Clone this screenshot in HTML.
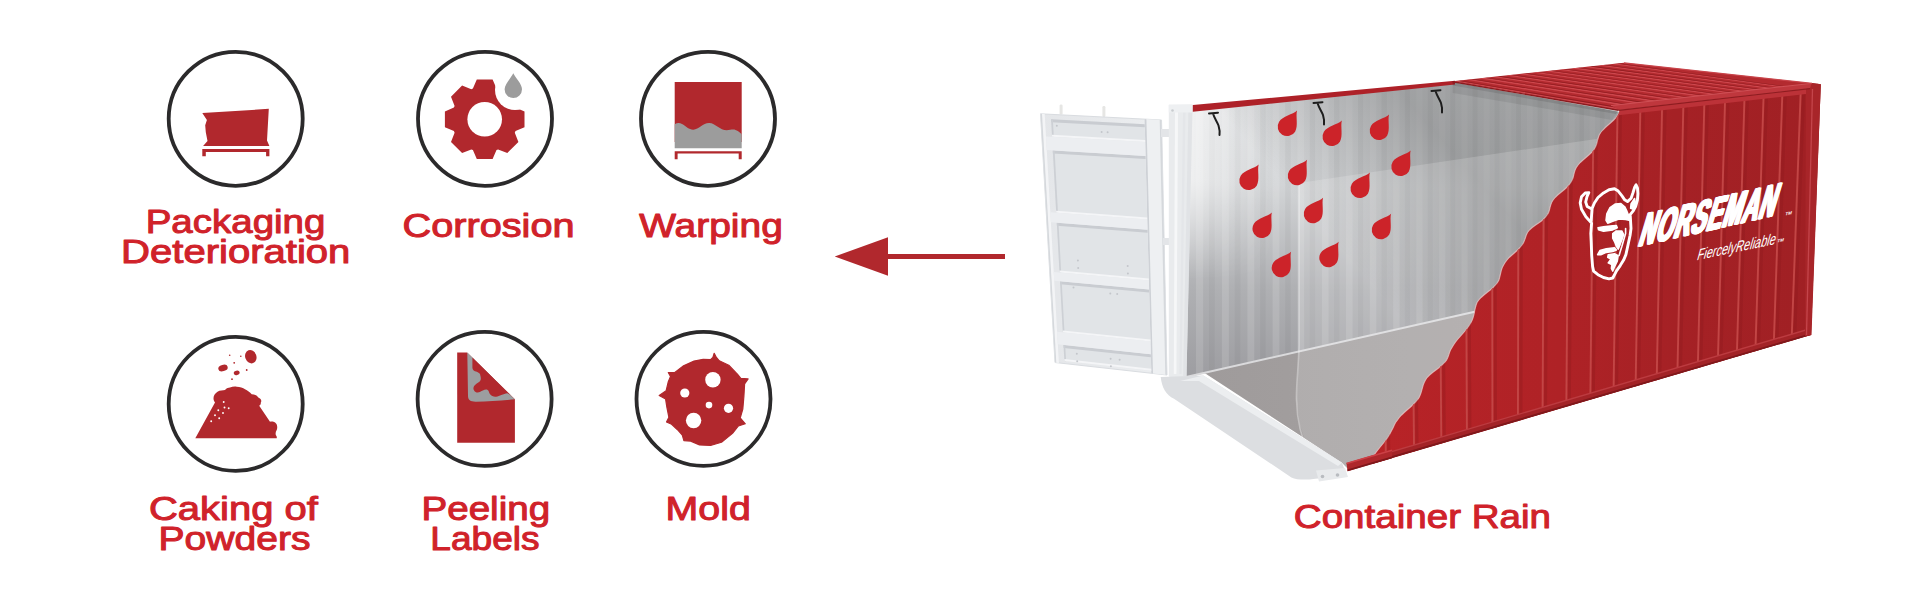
<!DOCTYPE html>
<html><head><meta charset="utf-8"><title>Container Rain</title>
<style>
html,body{margin:0;padding:0;background:#fff;}
body{width:1920px;height:600px;overflow:hidden;}
svg{display:block;font-family:"Liberation Sans",sans-serif;}
</style></head><body>
<svg width="1920" height="600" viewBox="0 0 1920 600">
<rect width="1920" height="600" fill="#fff"/>
<circle cx="235.7" cy="118.8" r="67.0" fill="#fff" stroke="#2B2A2B" stroke-width="3.8"/>
<circle cx="485" cy="118.8" r="67.0" fill="#fff" stroke="#2B2A2B" stroke-width="3.8"/>
<circle cx="708" cy="118.8" r="67.0" fill="#fff" stroke="#2B2A2B" stroke-width="3.8"/>
<circle cx="235.7" cy="403.9" r="67.0" fill="#fff" stroke="#2B2A2B" stroke-width="3.8"/>
<circle cx="484.6" cy="398.9" r="67.0" fill="#fff" stroke="#2B2A2B" stroke-width="3.8"/>
<circle cx="703.5" cy="398.9" r="67.0" fill="#fff" stroke="#2B2A2B" stroke-width="3.8"/>
<path fill="#B1282D" d="M202.3,113.1 L268.8,108.8 L267,140.5 L269.4,146.1 L203.1,146.1 L207.5,141.1 L205.8,132.3 L205.2,125.3 L206.9,120.1 L204.6,116.6 Z"/>
<path fill="#B1282D" d="M202.3,148.9 H269.4 V156.3 H266.1 V152 H205.8 V156.3 H202.3 Z"/>
<defs><mask id="gm"><rect x="400" y="40" width="180" height="160" fill="#fff"/><circle cx="484.7" cy="119.3" r="17.3" fill="#000"/><circle cx="515" cy="90" r="20" fill="#000"/></mask></defs>
<path fill="#B1282D" d="M472.9,88.5 L476.8,79.5 L492.6,79.5 L496.5,88.5 L498.1,89.2 L507.3,85.6 L518.4,96.7 L514.8,105.9 L515.5,107.5 L524.5,111.4 L524.5,127.2 L515.5,131.1 L514.8,132.7 L518.4,141.9 L507.3,153.0 L498.1,149.4 L496.5,150.1 L492.6,159.1 L476.8,159.1 L472.9,150.1 L471.3,149.4 L462.1,153.0 L451.0,141.9 L454.6,132.7 L453.9,131.1 L444.9,127.2 L444.9,111.4 L453.9,107.5 L454.6,105.9 L451.0,96.7 L462.1,85.6 L471.3,89.2 Z" mask="url(#gm)"/>
<path fill="#9C9C9C" d="M513.3,73.3 C515.5,78 522,84 522,89.3 A8.7,8.7 0 0 1 504.6,89.3 C504.6,84 511.2,78 513.3,73.3 Z"/>
<rect x="674.7" y="82" width="67" height="60" fill="#B1282D"/>
<path fill="#9C9C9C" d="M674.7,124.2 C677,123 679.5,122.6 682,124 C686,126.2 689,129.8 693.3,129.7 C699,129.5 703,122.8 709.2,123 C715.5,123.2 720,130.3 726.7,130.3 C730,130.3 733,129 735.5,130 C738,131 740,132.5 741.7,134.2 V148.3 H674.7 Z"/>
<path fill="#B1282D" d="M674.7,151.2 H741.7 V159.2 H738.7 V153.4 H677.6 V159.2 H674.7 Z"/>
<path fill="#B1282D" d="M195.3,438.3 L215,402.5 C212.5,399.5 213,394.5 217.5,391.7 C220,390 223,390.6 225,390 C226.5,388.2 228.5,387.6 230,387.5 C232,386.6 234.5,386.5 236.7,386.7 C240,386.8 243,387.8 245,389.2 C247.5,390.5 250,392 251.7,394.2 C254,394.2 257,395.3 258.3,397.5 C261,398.5 262,401 260.8,402.5 C261,404 260.2,405.2 259.2,405.8 L270,421.7 C272,421.2 275,421.8 275.8,423.3 C277.6,425 277.5,428.5 276.7,430 C275.6,431.5 275.4,433.5 275.8,435 C276.8,436 277,437.5 276.7,438.3 Z"/>
<ellipse cx="250.8" cy="356.7" rx="5.6" ry="6.8" transform="rotate(-20 250.8 356.7)" fill="#B1282D"/>
<ellipse cx="223" cy="368" rx="4.8" ry="3.2" transform="rotate(-15 223 368)" fill="#B1282D"/>
<ellipse cx="236.7" cy="372.8" rx="3" ry="2.2" transform="rotate(-15 236.7 372.8)" fill="#B1282D"/>
<circle cx="229.7" cy="355.3" r="0.8" fill="#B1282D"/>
<circle cx="240.8" cy="356.3" r="0.8" fill="#B1282D"/>
<circle cx="234.2" cy="362.8" r="0.9" fill="#B1282D"/>
<circle cx="246.7" cy="370" r="0.9" fill="#B1282D"/>
<circle cx="232" cy="379.2" r="0.9" fill="#B1282D"/>
<circle cx="223.7" cy="402" r="0.95" fill="#fff"/>
<circle cx="224.5" cy="407.5" r="0.95" fill="#fff"/>
<circle cx="228.7" cy="408.3" r="0.95" fill="#fff"/>
<circle cx="218.3" cy="410.3" r="0.95" fill="#fff"/>
<circle cx="223" cy="413" r="0.95" fill="#fff"/>
<circle cx="215" cy="415.3" r="0.95" fill="#fff"/>
<circle cx="219.2" cy="418.3" r="0.95" fill="#fff"/>
<circle cx="211.2" cy="421.2" r="0.95" fill="#fff"/>
<path fill="#B1282D" d="M457.2,352.4 H467.1 L514.9,399.3 V442.7 H457.2 Z"/>
<path fill="#9C9EA0" d="M467.3,352.6 L514.7,399.3 C502,400.6 488,401.4 476,401.7 C470.5,401.8 468,400 468,396 Z"/>
<path fill="#B1282D" d="M472.4,357.6 L472.4,367.8 C472.6,369.6 473.6,370.6 475,371.3 C477.5,372 480.5,373 480.3,375.6 C481.2,378.5 481,380.5 479.4,381.8 C477.6,383.4 475,384.4 474.1,386.1 C473.2,387.6 473.2,389.4 474.1,390.5 C475,392 476.2,392.6 477.6,392.6 C479.6,392.6 481,391 482.9,390.5 C484.4,389.6 486,389.2 487.3,389.7 C489,390.4 489,392.6 489.9,394 C491.4,396 493.6,396.9 496,396.7 C498,396.6 499.6,395.4 501.3,394.9 C503.4,394.2 505.4,393.4 507.4,393.2 L510.5,394.9 Z"/>
<path fill="#B1282D" stroke="#B1282D" stroke-width="1.2" stroke-linejoin="round" d="M710.5,359.7 L712.9,357.5 L714.2,353.3 L716.4,357.5 L719.3,360.8 L728.8,365.2 L737.6,374.3 L740.8,378.4 L748.1,378.9 L744.6,383.9 L743.9,396.3 L742.8,409.2 L740.2,418.0 L745.3,423.8 L738.4,426.0 L732.5,433.4 L721.5,442.2 L710.5,445.5 L699.5,444.9 L690.7,441.1 L683.9,440.7 L682.3,435.2 L677.5,429.7 L671.6,424.2 L666.5,422.0 L668.9,417.4 L666.9,407.3 L665.6,399.1 L659.2,395.4 L666.1,390.8 L668.3,381.7 L670.5,376.5 L668.3,372.5 L674.8,372.5 L683.0,366.1 L694.0,361.1 L703.2,359.3 Z"/>
<circle cx="712.9" cy="379.8" r="7.7" fill="#fff"/>
<circle cx="684.8" cy="393" r="4.6" fill="#fff"/>
<circle cx="709" cy="405.1" r="3.3" fill="#fff"/>
<circle cx="728.5" cy="408.3" r="4.6" fill="#fff"/>
<circle cx="693.6" cy="420.5" r="7.7" fill="#fff"/>
<path fill="#B1282D" d="M834.7,256.5 L888,237.3 V254.1 H1005 V259.1 H888 V275.7 Z"/>
<defs>
<linearGradient id="wallg" x1="0" y1="0" x2="0" y2="1">
 <stop offset="0" stop-color="#DCDEE0"/><stop offset="0.35" stop-color="#D2D4D6"/><stop offset="0.7" stop-color="#AFB0B3"/><stop offset="1" stop-color="#9D9DA1"/>
</linearGradient>
<linearGradient id="floorg" x1="0" y1="0" x2="1" y2="0">
 <stop offset="0" stop-color="#9F9B9B"/><stop offset="1" stop-color="#A6A2A2"/>
</linearGradient>
<linearGradient id="doorg" x1="0" y1="0" x2="1" y2="0">
 <stop offset="0" stop-color="#E4E6E9"/><stop offset="1" stop-color="#ECEEF0"/>
</linearGradient>
<linearGradient id="redg" gradientUnits="userSpaceOnUse" x1="1350" y1="0" x2="1815" y2="0">
 <stop offset="0" stop-color="#B92327"/><stop offset="0.45" stop-color="#AF2226"/><stop offset="0.7" stop-color="#A52125"/><stop offset="1" stop-color="#A02024"/>
</linearGradient>
</defs>
<rect x="1059.6" y="104.5" width="3" height="10" rx="1.3" fill="#E6E6E4"/>
<rect x="1102.4" y="106" width="3" height="11" rx="1.3" fill="#E6E6E4"/>
<polygon points="1040.5,113.8 1161.5,120.0 1167.0,375.0 1055.0,362.5" fill="url(#doorg)" stroke="#D9DCE0" stroke-width="1"/>
<polygon points="1040.5,113.8 1044.7,114.0 1058.9,362.9 1055.0,362.5" fill="#F3F4F6" />
<polygon points="1144.6,119.1 1161.5,120.0 1167.0,375.0 1151.3,373.2" fill="#EEF0F2" />
<polygon points="1144.6,119.1 1146.4,119.2 1153.0,373.4 1151.3,373.2" fill="#CED1D6" />
<polygon points="1159.7,119.9 1161.5,120.0 1167.0,375.0 1165.3,374.8" fill="#D5D8DC" />
<polygon points="1040.5,113.8 1042.0,113.9 1056.3,362.6 1055.0,362.5" fill="#D5D8DC" />
<polygon points="1051.1,119.3 1144.7,124.2 1145.2,142.0 1052.0,136.8" fill="#E1E4E7" />
<polygon points="1051.1,119.3 1144.7,124.2 1144.8,127.3 1051.2,122.3" fill="#C9CCD1" />
<polygon points="1051.1,119.3 1052.9,119.4 1053.8,136.9 1052.0,136.8" fill="#CDD0D5" />
<polygon points="1051.9,134.8 1145.1,140.0 1145.2,142.0 1052.0,136.8" fill="#F4F5F7" />
<polygon points="1052.8,150.5 1145.5,156.0 1147.2,219.5 1056.2,212.8" fill="#E1E4E7" />
<polygon points="1052.8,150.5 1145.5,156.0 1145.6,159.0 1052.9,153.5" fill="#C9CCD1" />
<polygon points="1052.8,150.5 1054.6,150.6 1058.0,212.9 1056.2,212.8" fill="#CDD0D5" />
<polygon points="1056.1,210.8 1147.2,217.5 1147.2,219.5 1056.2,212.8" fill="#F4F5F7" />
<polygon points="1056.8,222.7 1147.5,229.7 1148.9,280.5 1059.5,272.6" fill="#E1E4E7" />
<polygon points="1056.8,222.7 1147.5,229.7 1147.6,232.7 1056.9,225.7" fill="#C9CCD1" />
<polygon points="1056.8,222.7 1058.5,222.9 1061.2,272.7 1059.5,272.6" fill="#CDD0D5" />
<polygon points="1059.4,270.6 1148.8,278.5 1148.9,280.5 1059.5,272.6" fill="#F4F5F7" />
<polygon points="1060.0,281.3 1149.1,289.4 1150.5,341.5 1062.8,332.4" fill="#E1E4E7" />
<polygon points="1060.0,281.3 1149.1,289.4 1149.2,292.4 1060.2,284.3" fill="#C9CCD1" />
<polygon points="1060.0,281.3 1061.7,281.5 1064.5,332.6 1062.8,332.4" fill="#CDD0D5" />
<polygon points="1062.7,330.4 1150.4,339.5 1150.5,341.5 1062.8,332.4" fill="#F4F5F7" />
<polygon points="1063.5,344.9 1150.8,354.2 1151.3,370.7 1064.4,361.1" fill="#E1E4E7" />
<polygon points="1063.5,344.9 1150.8,354.2 1150.9,357.2 1063.7,347.9" fill="#C9CCD1" />
<polygon points="1063.5,344.9 1065.2,345.1 1066.1,361.3 1064.4,361.1" fill="#CDD0D5" />
<polygon points="1064.3,359.1 1151.2,368.7 1151.3,370.7 1064.4,361.1" fill="#F4F5F7" />
<polygon points="1046.0,136.4 1145.2,142.0 1145.5,156.0 1046.8,150.1" fill="#ECEEF1" />
<polygon points="1050.3,212.3 1147.2,219.5 1147.5,229.7 1050.9,222.3" fill="#ECEEF1" />
<polygon points="1053.7,272.1 1148.9,280.5 1149.1,289.4 1054.2,280.8" fill="#ECEEF1" />
<polygon points="1057.1,331.8 1150.5,341.5 1150.8,354.2 1057.9,344.3" fill="#ECEEF1" />
<circle cx="1056.8" cy="125.8" r="1" fill="#C3C6CB"/>
<circle cx="1101.6" cy="132.0" r="1" fill="#C3C6CB"/>
<circle cx="1107.6" cy="132.3" r="1" fill="#C3C6CB"/>
<circle cx="1077.9" cy="260.5" r="1" fill="#C3C6CB"/>
<circle cx="1078.2" cy="268.0" r="1" fill="#C3C6CB"/>
<circle cx="1127.7" cy="266.0" r="1" fill="#C3C6CB"/>
<circle cx="1127.9" cy="273.6" r="1" fill="#C3C6CB"/>
<circle cx="1110.3" cy="293.4" r="1" fill="#C3C6CB"/>
<circle cx="1117.2" cy="294.0" r="1" fill="#C3C6CB"/>
<circle cx="1073.5" cy="287.5" r="1" fill="#C3C6CB"/>
<circle cx="1076.8" cy="353.8" r="1" fill="#C3C6CB"/>
<circle cx="1110.6" cy="358.7" r="1" fill="#C3C6CB"/>
<circle cx="1119.6" cy="359.7" r="1" fill="#C3C6CB"/>
<circle cx="1077.2" cy="361.3" r="1" fill="#C3C6CB"/>
<circle cx="1110.9" cy="366.2" r="1" fill="#C3C6CB"/>
<rect x="1161" y="129" width="9" height="8" fill="#E3E5E8"/>
<rect x="1163" y="238" width="8" height="7" fill="#E3E5E8"/>
<clipPath id="bwc"><polygon points="1184.0,109.2 1453.0,82.2 1600.0,108.2 1620.0,112.0 1620.0,278.4 1184.0,378.0"/></clipPath>
<polygon points="1184.0,109.2 1453.0,82.2 1600.0,108.2 1620.0,112.0 1620.0,278.4 1184.0,378.0" fill="url(#wallg)"/>
<g clip-path="url(#bwc)"><rect x="1196.0" y="50" width="7.2" height="340" fill="#fff" opacity="0.13"/><rect x="1209.0" y="50" width="5.8" height="340" fill="#000" opacity="0.03"/><rect x="1221.9" y="50" width="7.0" height="340" fill="#fff" opacity="0.13"/><rect x="1234.7" y="50" width="5.7" height="340" fill="#000" opacity="0.03"/><rect x="1247.4" y="50" width="6.9" height="340" fill="#fff" opacity="0.13"/><rect x="1260.1" y="50" width="5.6" height="340" fill="#000" opacity="0.03"/><rect x="1272.6" y="50" width="6.8" height="340" fill="#fff" opacity="0.13"/><rect x="1285.1" y="50" width="5.6" height="340" fill="#000" opacity="0.03"/><rect x="1297.4" y="50" width="6.8" height="340" fill="#fff" opacity="0.13"/><rect x="1309.7" y="50" width="5.5" height="340" fill="#000" opacity="0.03"/><rect x="1321.9" y="50" width="6.7" height="340" fill="#fff" opacity="0.13"/><rect x="1334.0" y="50" width="5.4" height="340" fill="#000" opacity="0.03"/><rect x="1346.0" y="50" width="6.6" height="340" fill="#fff" opacity="0.13"/><rect x="1357.9" y="50" width="5.3" height="340" fill="#000" opacity="0.03"/><rect x="1369.8" y="50" width="6.5" height="340" fill="#fff" opacity="0.13"/><rect x="1381.5" y="50" width="5.3" height="340" fill="#000" opacity="0.03"/><rect x="1393.2" y="50" width="6.4" height="340" fill="#fff" opacity="0.13"/><rect x="1404.8" y="50" width="5.2" height="340" fill="#000" opacity="0.03"/><rect x="1416.3" y="50" width="6.3" height="340" fill="#fff" opacity="0.13"/><rect x="1427.7" y="50" width="5.1" height="340" fill="#000" opacity="0.03"/><rect x="1439.1" y="50" width="6.2" height="340" fill="#fff" opacity="0.13"/><rect x="1450.3" y="50" width="5.0" height="340" fill="#000" opacity="0.03"/><rect x="1461.5" y="50" width="6.1" height="340" fill="#fff" opacity="0.13"/><rect x="1472.6" y="50" width="5.0" height="340" fill="#000" opacity="0.03"/><rect x="1483.6" y="50" width="6.0" height="340" fill="#fff" opacity="0.13"/><rect x="1494.6" y="50" width="4.9" height="340" fill="#000" opacity="0.03"/><rect x="1505.5" y="50" width="5.9" height="340" fill="#fff" opacity="0.13"/><rect x="1516.2" y="50" width="4.8" height="340" fill="#000" opacity="0.03"/><rect x="1526.9" y="50" width="5.8" height="340" fill="#fff" opacity="0.13"/><rect x="1537.6" y="50" width="4.8" height="340" fill="#000" opacity="0.03"/><rect x="1548.1" y="50" width="5.8" height="340" fill="#fff" opacity="0.13"/><rect x="1558.6" y="50" width="4.7" height="340" fill="#000" opacity="0.03"/><rect x="1569.0" y="50" width="5.7" height="340" fill="#fff" opacity="0.13"/><rect x="1579.4" y="50" width="4.6" height="340" fill="#000" opacity="0.03"/><rect x="1589.6" y="50" width="5.6" height="340" fill="#fff" opacity="0.13"/><rect x="1599.8" y="50" width="4.6" height="340" fill="#000" opacity="0.03"/><rect x="1609.9" y="50" width="5.5" height="340" fill="#fff" opacity="0.13"/><rect x="1620.0" y="50" width="4.5" height="340" fill="#000" opacity="0.03"/><rect x="1629.9" y="50" width="5.4" height="340" fill="#fff" opacity="0.13"/><rect x="1639.8" y="50" width="4.4" height="340" fill="#000" opacity="0.03"/></g>
<defs><linearGradient id="ltg" gradientUnits="userSpaceOnUse" x1="1192" y1="0" x2="1275" y2="0"><stop offset="0" stop-color="#fff" stop-opacity="0.62"/><stop offset="0.45" stop-color="#fff" stop-opacity="0.3"/><stop offset="1" stop-color="#fff" stop-opacity="0"/></linearGradient></defs>
<defs><linearGradient id="ltm" gradientUnits="userSpaceOnUse" x1="0" y1="180" x2="0" y2="280"><stop offset="0" stop-color="#fff"/><stop offset="1" stop-color="#000"/></linearGradient><mask id="ltmask"><rect x="1150" y="50" width="200" height="400" fill="url(#ltm)"/></mask></defs>
<polygon points="1184.0,109.2 1453.0,82.2 1600.0,108.2 1620.0,112.0 1620.0,278.4 1184.0,378.0" fill="url(#ltg)" mask="url(#ltmask)"/>
<defs><linearGradient id="shg" gradientUnits="userSpaceOnUse" x1="1300" y1="300" x2="1460" y2="160"><stop offset="0" stop-color="#000" stop-opacity="0"/><stop offset="0.3" stop-color="#000" stop-opacity="0"/><stop offset="1" stop-color="#000" stop-opacity="0.27"/></linearGradient></defs>
<polygon points="1184.0,109.2 1453.0,82.2 1600.0,108.2 1620.0,112.0 1620.0,278.4 1184.0,378.0" fill="url(#shg)"/>
<polygon points="1203.8,372.5 1490.0,307.8 1490.0,424.0 1347.5,468.5 1342.0,462.7" fill="url(#floorg)"/>
<line x1="1186" y1="377.0" x2="1520" y2="301.5" stroke="#DADADC" stroke-width="2"/>
<clipPath id="intc"><polygon points="1184.0,109.2 1453.0,82.2 1600.0,108.2 1620.0,112.0 1620.0,278.4 1184.0,378.0"/><polygon points="1203.8,372.5 1490.0,307.8 1490.0,424.0 1347.5,468.5 1342.0,462.7"/></clipPath>
<g clip-path="url(#intc)"><polygon points="1299.0,183.0 1562.0,144.0 1640.0,132.5 1640.0,500.0 1320.0,500.0 1309.5,455.0 1300.0,425.0 1296.5,400.0 1298.5,365.0 1299.0,345.0" fill="#fff" opacity="0.17"/></g>
<path d="M1299,184 L1299,345 C1298.5,370 1296,385 1296.5,400 C1297,420 1302,440 1309.5,455" fill="none" stroke="#fff" stroke-width="1.6" opacity="0.35"/>
<polygon points="1168.8,105 1192.5,104.5 1186.5,377 1172,380 1168.8,376" fill="#E9EBED"/>
<polygon points="1175,112 1178,112 1176.4,374 1173.8,374" fill="#F6F7F8"/>
<polygon points="1183,112 1185.5,112 1181.6,374 1179.4,374" fill="#E4E6E9"/>
<polygon points="1188.5,106 1192.5,106 1186.5,376 1183.2,376" fill="#DFE1E4" opacity="0.8"/>
<rect x="1168.8" y="104.5" width="23.7" height="8" fill="#EEF0F2"/>
<circle cx="1172.5" cy="110.5" r="1.3" fill="#C9CCD0"/>
<path d="M1160.7,377 C1162,388 1166,395 1174,398.7 L1291.4,477.4 C1297,480 1306,480 1315.4,478.7 L1347,476 L1342,462.7 L1203.4,375.5 Z" fill="#DCDEE1"/>
<path d="M1180,381 L1203.4,375.5 L1342,462.7 L1338,466 L1199,381 Z" fill="#ECEEF0"/>
<path d="M1316,470.5 L1345,468 L1348,477 L1319,481.5 Z" fill="#E8EAEC"/>
<circle cx="1322.5" cy="476.5" r="1.8" fill="#B9BCC0"/><circle cx="1337.5" cy="475" r="1.8" fill="#B9BCC0"/>
<polygon points="1192.8,105.1 1455,80.8 1455,84.4 1192.8,111.7" fill="#AE2128"/>
<polygon points="1452.7,81.3 1618.7,110 1616,114 1452.7,85.5" fill="#000" opacity="0.10"/>
<polygon points="1452.7,81.3 1618.7,110 1612,120 1452.7,93" fill="#000" opacity="0.07"/>
<path d="M1209,113.5 l9,-0.8 M1213,113.5 c1.5,5 4,8 5.5,12 c1,3.5 1.5,7 1,9.5" fill="none" stroke="#1d1d1d" stroke-width="2" stroke-linecap="round"/>
<path d="M1313.5,103 l9,-0.8 M1317.5,103 c1.5,5 4,8 5.5,12 c1,3.5 1.5,7 1,9.5" fill="none" stroke="#1d1d1d" stroke-width="2" stroke-linecap="round"/>
<path d="M1431.5,91 l9,-0.8 M1435.5,91 c1.5,5 4,8 5.5,12 c1,3.5 1.5,7 1,9.5" fill="none" stroke="#1d1d1d" stroke-width="2" stroke-linecap="round"/>
<path transform="translate(1287.1,126.7) rotate(31.6)" d="M0,-19 C1.5,-13.5 9.4,-6.5 9.4,0 A9.4,9.4 0 1 1 -9.4,0 C-9.4,-6.5 -1.5,-13.5 0,-19 Z" fill="#CC2329"/>
<path transform="translate(1331.9,136.7) rotate(31.6)" d="M0,-19 C1.5,-13.5 9.4,-6.5 9.4,0 A9.4,9.4 0 1 1 -9.4,0 C-9.4,-6.5 -1.5,-13.5 0,-19 Z" fill="#CC2329"/>
<path transform="translate(1379.1,130.7) rotate(31.6)" d="M0,-19 C1.5,-13.5 9.4,-6.5 9.4,0 A9.4,9.4 0 1 1 -9.4,0 C-9.4,-6.5 -1.5,-13.5 0,-19 Z" fill="#CC2329"/>
<path transform="translate(1248.7,180.7) rotate(31.6)" d="M0,-19 C1.5,-13.5 9.4,-6.5 9.4,0 A9.4,9.4 0 1 1 -9.4,0 C-9.4,-6.5 -1.5,-13.5 0,-19 Z" fill="#CC2329"/>
<path transform="translate(1297.1,175.9) rotate(31.6)" d="M0,-19 C1.5,-13.5 9.4,-6.5 9.4,0 A9.4,9.4 0 1 1 -9.4,0 C-9.4,-6.5 -1.5,-13.5 0,-19 Z" fill="#CC2329"/>
<path transform="translate(1359.9,188.7) rotate(31.6)" d="M0,-19 C1.5,-13.5 9.4,-6.5 9.4,0 A9.4,9.4 0 1 1 -9.4,0 C-9.4,-6.5 -1.5,-13.5 0,-19 Z" fill="#CC2329"/>
<path transform="translate(1400.7,166.7) rotate(31.6)" d="M0,-19 C1.5,-13.5 9.4,-6.5 9.4,0 A9.4,9.4 0 1 1 -9.4,0 C-9.4,-6.5 -1.5,-13.5 0,-19 Z" fill="#CC2329"/>
<path transform="translate(1313.1,213.9) rotate(31.6)" d="M0,-19 C1.5,-13.5 9.4,-6.5 9.4,0 A9.4,9.4 0 1 1 -9.4,0 C-9.4,-6.5 -1.5,-13.5 0,-19 Z" fill="#CC2329"/>
<path transform="translate(1261.9,228.7) rotate(31.6)" d="M0,-19 C1.5,-13.5 9.4,-6.5 9.4,0 A9.4,9.4 0 1 1 -9.4,0 C-9.4,-6.5 -1.5,-13.5 0,-19 Z" fill="#CC2329"/>
<path transform="translate(1381.1,229.9) rotate(31.6)" d="M0,-19 C1.5,-13.5 9.4,-6.5 9.4,0 A9.4,9.4 0 1 1 -9.4,0 C-9.4,-6.5 -1.5,-13.5 0,-19 Z" fill="#CC2329"/>
<path transform="translate(1328.7,257.9) rotate(31.6)" d="M0,-19 C1.5,-13.5 9.4,-6.5 9.4,0 A9.4,9.4 0 1 1 -9.4,0 C-9.4,-6.5 -1.5,-13.5 0,-19 Z" fill="#CC2329"/>
<path transform="translate(1281.1,267.9) rotate(31.6)" d="M0,-19 C1.5,-13.5 9.4,-6.5 9.4,0 A9.4,9.4 0 1 1 -9.4,0 C-9.4,-6.5 -1.5,-13.5 0,-19 Z" fill="#CC2329"/>
<clipPath id="rwc"><polygon points="1619.8,110.0 1619.1,112.5 1617.9,115.0 1616.0,117.5 1613.7,120.0 1611.0,122.5 1608.1,125.0 1605.3,127.5 1602.8,130.0 1600.7,132.5 1599.2,135.0 1598.3,137.5 1597.6,140.0 1597.1,142.5 1596.4,145.0 1595.3,147.5 1593.7,150.0 1591.5,152.5 1588.8,155.0 1585.9,157.5 1583.0,160.0 1580.3,162.5 1578.1,165.0 1576.3,167.5 1575.1,170.0 1574.3,172.5 1573.7,175.0 1573.1,177.5 1572.2,180.0 1570.9,182.5 1569.0,185.0 1566.6,187.5 1563.8,190.0 1560.7,192.5 1557.7,195.0 1555.1,197.5 1553.1,200.0 1551.6,202.5 1550.7,205.0 1550.0,207.5 1549.4,210.0 1548.6,212.5 1547.2,215.0 1545.3,217.5 1542.8,220.0 1539.3,222.5 1535.6,225.0 1532.2,227.5 1529.4,230.0 1527.5,232.5 1526.3,235.0 1525.5,237.5 1524.6,240.0 1523.6,242.5 1522.1,245.0 1520.1,247.5 1517.6,250.0 1514.8,252.5 1512.0,255.0 1509.2,257.5 1507.0,260.0 1505.1,262.5 1503.6,265.0 1502.3,267.5 1501.4,270.0 1500.8,272.5 1500.2,275.0 1499.6,277.5 1498.9,280.0 1497.5,282.5 1495.6,285.0 1493.2,287.5 1490.2,290.0 1487.0,292.5 1483.9,295.0 1481.1,297.5 1478.8,300.0 1477.0,302.5 1476.1,305.0 1475.4,307.5 1474.8,310.0 1474.4,312.5 1473.8,315.0 1473.1,317.5 1472.2,320.0 1471.0,322.5 1469.6,325.0 1467.9,327.5 1465.9,330.0 1463.7,332.5 1461.5,335.0 1459.3,337.5 1457.1,340.0 1455.2,342.5 1453.5,345.0 1452.0,347.5 1450.5,350.0 1449.5,352.5 1448.7,355.0 1447.8,357.5 1446.6,360.0 1444.7,362.5 1442.1,365.0 1439.2,367.5 1435.9,370.0 1432.6,372.5 1429.6,375.0 1427.1,377.5 1425.5,380.0 1424.2,382.5 1423.2,385.0 1422.5,387.5 1421.8,390.0 1421.1,392.5 1420.2,395.0 1419.1,397.5 1417.4,400.0 1415.2,402.5 1412.7,405.0 1409.9,407.5 1407.0,410.0 1404.2,412.5 1401.6,415.0 1399.3,417.5 1397.5,420.0 1395.6,422.5 1394.3,425.0 1393.2,427.5 1391.9,430.0 1390.6,432.5 1389.3,435.0 1387.8,437.5 1386.0,440.0 1383.9,442.5 1381.8,445.0 1379.8,447.5 1377.8,450.0 1375.9,452.5 1374.1,455.0 1372.6,457.5 1371.3,460.0 1370.1,462.5 1372.0,464.0 1811.0,335.0 1820.8,84.2 1811.7,83.0 1810.0,88.3"/></clipPath>
<polygon points="1619.8,110.0 1619.1,112.5 1617.9,115.0 1616.0,117.5 1613.7,120.0 1611.0,122.5 1608.1,125.0 1605.3,127.5 1602.8,130.0 1600.7,132.5 1599.2,135.0 1598.3,137.5 1597.6,140.0 1597.1,142.5 1596.4,145.0 1595.3,147.5 1593.7,150.0 1591.5,152.5 1588.8,155.0 1585.9,157.5 1583.0,160.0 1580.3,162.5 1578.1,165.0 1576.3,167.5 1575.1,170.0 1574.3,172.5 1573.7,175.0 1573.1,177.5 1572.2,180.0 1570.9,182.5 1569.0,185.0 1566.6,187.5 1563.8,190.0 1560.7,192.5 1557.7,195.0 1555.1,197.5 1553.1,200.0 1551.6,202.5 1550.7,205.0 1550.0,207.5 1549.4,210.0 1548.6,212.5 1547.2,215.0 1545.3,217.5 1542.8,220.0 1539.3,222.5 1535.6,225.0 1532.2,227.5 1529.4,230.0 1527.5,232.5 1526.3,235.0 1525.5,237.5 1524.6,240.0 1523.6,242.5 1522.1,245.0 1520.1,247.5 1517.6,250.0 1514.8,252.5 1512.0,255.0 1509.2,257.5 1507.0,260.0 1505.1,262.5 1503.6,265.0 1502.3,267.5 1501.4,270.0 1500.8,272.5 1500.2,275.0 1499.6,277.5 1498.9,280.0 1497.5,282.5 1495.6,285.0 1493.2,287.5 1490.2,290.0 1487.0,292.5 1483.9,295.0 1481.1,297.5 1478.8,300.0 1477.0,302.5 1476.1,305.0 1475.4,307.5 1474.8,310.0 1474.4,312.5 1473.8,315.0 1473.1,317.5 1472.2,320.0 1471.0,322.5 1469.6,325.0 1467.9,327.5 1465.9,330.0 1463.7,332.5 1461.5,335.0 1459.3,337.5 1457.1,340.0 1455.2,342.5 1453.5,345.0 1452.0,347.5 1450.5,350.0 1449.5,352.5 1448.7,355.0 1447.8,357.5 1446.6,360.0 1444.7,362.5 1442.1,365.0 1439.2,367.5 1435.9,370.0 1432.6,372.5 1429.6,375.0 1427.1,377.5 1425.5,380.0 1424.2,382.5 1423.2,385.0 1422.5,387.5 1421.8,390.0 1421.1,392.5 1420.2,395.0 1419.1,397.5 1417.4,400.0 1415.2,402.5 1412.7,405.0 1409.9,407.5 1407.0,410.0 1404.2,412.5 1401.6,415.0 1399.3,417.5 1397.5,420.0 1395.6,422.5 1394.3,425.0 1393.2,427.5 1391.9,430.0 1390.6,432.5 1389.3,435.0 1387.8,437.5 1386.0,440.0 1383.9,442.5 1381.8,445.0 1379.8,447.5 1377.8,450.0 1375.9,452.5 1374.1,455.0 1372.6,457.5 1371.3,460.0 1370.1,462.5 1372.0,464.0 1811.0,335.0 1820.8,84.2 1811.7,83.0 1810.0,88.3" fill="url(#redg)"/>
<polyline points="1619.8,110.0 1619.1,112.5 1617.9,115.0 1616.0,117.5 1613.7,120.0 1611.0,122.5 1608.1,125.0 1605.3,127.5 1602.8,130.0 1600.7,132.5 1599.2,135.0 1598.3,137.5 1597.6,140.0 1597.1,142.5 1596.4,145.0 1595.3,147.5 1593.7,150.0 1591.5,152.5 1588.8,155.0 1585.9,157.5 1583.0,160.0 1580.3,162.5 1578.1,165.0 1576.3,167.5 1575.1,170.0 1574.3,172.5 1573.7,175.0 1573.1,177.5 1572.2,180.0 1570.9,182.5 1569.0,185.0 1566.6,187.5 1563.8,190.0 1560.7,192.5 1557.7,195.0 1555.1,197.5 1553.1,200.0 1551.6,202.5 1550.7,205.0 1550.0,207.5 1549.4,210.0 1548.6,212.5 1547.2,215.0 1545.3,217.5 1542.8,220.0 1539.3,222.5 1535.6,225.0 1532.2,227.5 1529.4,230.0 1527.5,232.5 1526.3,235.0 1525.5,237.5 1524.6,240.0 1523.6,242.5 1522.1,245.0 1520.1,247.5 1517.6,250.0 1514.8,252.5 1512.0,255.0 1509.2,257.5 1507.0,260.0 1505.1,262.5 1503.6,265.0 1502.3,267.5 1501.4,270.0 1500.8,272.5 1500.2,275.0 1499.6,277.5 1498.9,280.0 1497.5,282.5 1495.6,285.0 1493.2,287.5 1490.2,290.0 1487.0,292.5 1483.9,295.0 1481.1,297.5 1478.8,300.0 1477.0,302.5 1476.1,305.0 1475.4,307.5 1474.8,310.0 1474.4,312.5 1473.8,315.0 1473.1,317.5 1472.2,320.0 1471.0,322.5 1469.6,325.0 1467.9,327.5 1465.9,330.0 1463.7,332.5 1461.5,335.0 1459.3,337.5 1457.1,340.0 1455.2,342.5 1453.5,345.0 1452.0,347.5 1450.5,350.0 1449.5,352.5 1448.7,355.0 1447.8,357.5 1446.6,360.0 1444.7,362.5 1442.1,365.0 1439.2,367.5 1435.9,370.0 1432.6,372.5 1429.6,375.0 1427.1,377.5 1425.5,380.0 1424.2,382.5 1423.2,385.0 1422.5,387.5 1421.8,390.0 1421.1,392.5 1420.2,395.0 1419.1,397.5 1417.4,400.0 1415.2,402.5 1412.7,405.0 1409.9,407.5 1407.0,410.0 1404.2,412.5 1401.6,415.0 1399.3,417.5 1397.5,420.0 1395.6,422.5 1394.3,425.0 1393.2,427.5 1391.9,430.0 1390.6,432.5 1389.3,435.0 1387.8,437.5 1386.0,440.0 1383.9,442.5 1381.8,445.0 1379.8,447.5 1377.8,450.0 1375.9,452.5 1374.1,455.0 1372.6,457.5 1371.3,460.0 1370.1,462.5 1372.0,464.0" fill="none" stroke="#E9C9C9" stroke-width="1.1" opacity="0.75"/>
<g clip-path="url(#rwc)"><line x1="1354.1" y1="80" x2="1361.5" y2="480" stroke="#8C1B1F" stroke-width="3" opacity="0.35"/><line x1="1351.1" y1="80" x2="1358.5" y2="480" stroke="#C24545" stroke-width="1.9"/><line x1="1383.2" y1="80" x2="1389.2" y2="480" stroke="#8C1B1F" stroke-width="3" opacity="0.35"/><line x1="1380.2" y1="80" x2="1386.2" y2="480" stroke="#C24545" stroke-width="1.9"/><line x1="1412.9" y1="80" x2="1417.4" y2="480" stroke="#8C1B1F" stroke-width="3" opacity="0.35"/><line x1="1409.9" y1="80" x2="1414.4" y2="480" stroke="#C24545" stroke-width="1.9"/><line x1="1441.5" y1="80" x2="1444.6" y2="480" stroke="#8C1B1F" stroke-width="3" opacity="0.35"/><line x1="1438.5" y1="80" x2="1441.6" y2="480" stroke="#C24545" stroke-width="1.9"/><line x1="1468.3" y1="80" x2="1470.1" y2="480" stroke="#8C1B1F" stroke-width="3" opacity="0.35"/><line x1="1465.3" y1="80" x2="1467.1" y2="480" stroke="#C24545" stroke-width="1.9"/><line x1="1495.0" y1="80" x2="1495.5" y2="480" stroke="#8C1B1F" stroke-width="3" opacity="0.35"/><line x1="1492.0" y1="80" x2="1492.5" y2="480" stroke="#C24545" stroke-width="1.9"/><line x1="1521.6" y1="80" x2="1520.8" y2="480" stroke="#8C1B1F" stroke-width="3" opacity="0.35"/><line x1="1518.6" y1="80" x2="1517.8" y2="480" stroke="#C24545" stroke-width="1.9"/><line x1="1547.3" y1="80" x2="1545.2" y2="480" stroke="#8C1B1F" stroke-width="3" opacity="0.35"/><line x1="1544.3" y1="80" x2="1542.2" y2="480" stroke="#C24545" stroke-width="1.9"/><line x1="1572.0" y1="80" x2="1568.7" y2="480" stroke="#8C1B1F" stroke-width="3" opacity="0.35"/><line x1="1569.0" y1="80" x2="1565.7" y2="480" stroke="#C24545" stroke-width="1.9"/><line x1="1596.9" y1="80" x2="1592.4" y2="480" stroke="#8C1B1F" stroke-width="3" opacity="0.35"/><line x1="1593.9" y1="80" x2="1589.4" y2="480" stroke="#C24545" stroke-width="1.9"/><line x1="1620.9" y1="80" x2="1615.3" y2="480" stroke="#8C1B1F" stroke-width="3" opacity="0.35"/><line x1="1617.9" y1="80" x2="1612.3" y2="480" stroke="#C24545" stroke-width="1.9"/><line x1="1643.8" y1="80" x2="1637.0" y2="480" stroke="#8C1B1F" stroke-width="3" opacity="0.35"/><line x1="1640.8" y1="80" x2="1634.0" y2="480" stroke="#C24545" stroke-width="1.9"/><line x1="1665.6" y1="80" x2="1657.7" y2="480" stroke="#8C1B1F" stroke-width="3" opacity="0.35"/><line x1="1662.6" y1="80" x2="1654.7" y2="480" stroke="#C24545" stroke-width="1.9"/><line x1="1686.9" y1="80" x2="1678.0" y2="480" stroke="#8C1B1F" stroke-width="3" opacity="0.35"/><line x1="1683.9" y1="80" x2="1675.0" y2="480" stroke="#C24545" stroke-width="1.9"/><line x1="1707.9" y1="80" x2="1698.0" y2="480" stroke="#8C1B1F" stroke-width="3" opacity="0.35"/><line x1="1704.9" y1="80" x2="1695.0" y2="480" stroke="#C24545" stroke-width="1.9"/><line x1="1728.6" y1="80" x2="1717.6" y2="480" stroke="#8C1B1F" stroke-width="3" opacity="0.35"/><line x1="1725.6" y1="80" x2="1714.6" y2="480" stroke="#C24545" stroke-width="1.9"/><line x1="1748.0" y1="80" x2="1736.1" y2="480" stroke="#8C1B1F" stroke-width="3" opacity="0.35"/><line x1="1745.0" y1="80" x2="1733.1" y2="480" stroke="#C24545" stroke-width="1.9"/><line x1="1767.1" y1="80" x2="1754.2" y2="480" stroke="#8C1B1F" stroke-width="3" opacity="0.35"/><line x1="1764.1" y1="80" x2="1751.2" y2="480" stroke="#C24545" stroke-width="1.9"/><line x1="1785.8" y1="80" x2="1772.1" y2="480" stroke="#8C1B1F" stroke-width="3" opacity="0.35"/><line x1="1782.8" y1="80" x2="1769.1" y2="480" stroke="#C24545" stroke-width="1.9"/><line x1="1804.1" y1="80" x2="1789.5" y2="480" stroke="#8C1B1F" stroke-width="3" opacity="0.35"/><line x1="1801.1" y1="80" x2="1786.5" y2="480" stroke="#C24545" stroke-width="1.9"/><line x1="1821.3" y1="80" x2="1805.8" y2="480" stroke="#8C1B1F" stroke-width="3" opacity="0.35"/><line x1="1818.3" y1="80" x2="1802.8" y2="480" stroke="#C24545" stroke-width="1.9"/></g>
<g clip-path="url(#rwc)"><polygon points="1347.5,471 1811,335 1811,328.5 1347.5,464.5" fill="#A32327"/><line x1="1347.5" y1="464.5" x2="1811" y2="328.5" stroke="#BC3B40" stroke-width="1.4"/><line x1="1347.5" y1="470.2" x2="1811" y2="334.2" stroke="#7F181B" stroke-width="2.2"/></g>
<polygon points="1346.5,463 1392,449.6 1392,458 1347.5,471.3" fill="#AE282C"/>
<line x1="1346.5" y1="463.6" x2="1392" y2="450.2" stroke="#CC4046" stroke-width="1.6"/>
<line x1="1347.5" y1="470.4" x2="1392" y2="457.4" stroke="#7F181B" stroke-width="1.8"/>
<polygon points="1618.7,110 1810,88.3 1810,93.5 1616,115.5" fill="#BC3238" clip-path="url(#rwc)"/>
<polygon points="1806,89 1811.7,83 1820.8,84.2 1811.5,335 1805,336.5" fill="#A82529"/>
<line x1="1812.5" y1="89" x2="1806.5" y2="335" stroke="#C4454B" stroke-width="1.3"/>
<clipPath id="rfc"><polygon points="1452.7,81.3 1624.0,62.7 1812.0,83.2 1810.0,88.3 1618.7,110.0"/></clipPath>
<polygon points="1452.7,81.3 1624.0,62.7 1812.0,83.2 1810.0,88.3 1618.7,110.0" fill="#B32A2F"/>
<g clip-path="url(#rfc)"><polygon points="1453.4,81.2 1458.2,80.7 1626.0,109.2 1619.6,109.9" fill="#CD474D"/><polygon points="1458.2,80.7 1460.6,80.4 1629.0,108.8 1626.0,109.2" fill="#8F1D21"/><polygon points="1466.5,79.8 1471.4,79.3 1642.9,107.2 1636.7,108.0" fill="#CD474D"/><polygon points="1471.4,79.3 1473.8,79.0 1646.0,106.9 1642.9,107.2" fill="#8F1D21"/><polygon points="1479.7,78.4 1484.6,77.8 1659.5,105.4 1653.4,106.1" fill="#CD474D"/><polygon points="1484.6,77.8 1487.0,77.6 1662.5,105.0 1659.5,105.4" fill="#8F1D21"/><polygon points="1492.9,76.9 1497.8,76.4 1675.7,103.5 1669.8,104.2" fill="#CD474D"/><polygon points="1497.8,76.4 1500.1,76.1 1678.6,103.2 1675.7,103.5" fill="#8F1D21"/><polygon points="1506.1,75.5 1510.9,75.0 1691.5,101.7 1685.7,102.4" fill="#CD474D"/><polygon points="1510.9,75.0 1513.3,74.7 1694.3,101.4 1691.5,101.7" fill="#8F1D21"/><polygon points="1519.2,74.1 1524.1,73.5 1706.8,100.0 1701.2,100.6" fill="#CD474D"/><polygon points="1524.1,73.5 1526.5,73.3 1709.5,99.7 1706.8,100.0" fill="#8F1D21"/><polygon points="1532.4,72.6 1537.3,72.1 1721.8,98.3 1716.3,98.9" fill="#CD474D"/><polygon points="1537.3,72.1 1539.7,71.9 1724.4,98.0 1721.8,98.3" fill="#8F1D21"/><polygon points="1545.6,71.2 1550.5,70.7 1736.3,96.7 1731.0,97.3" fill="#CD474D"/><polygon points="1550.5,70.7 1552.8,70.4 1738.9,96.4 1736.3,96.7" fill="#8F1D21"/><polygon points="1558.8,69.8 1563.6,69.3 1750.5,95.1 1745.3,95.6" fill="#CD474D"/><polygon points="1563.6,69.3 1566.0,69.0 1753.0,94.8 1750.5,95.1" fill="#8F1D21"/><polygon points="1572.0,68.4 1576.8,67.8 1764.2,93.5 1759.2,94.1" fill="#CD474D"/><polygon points="1576.8,67.8 1579.2,67.6 1766.6,93.2 1764.2,93.5" fill="#8F1D21"/><polygon points="1585.1,66.9 1590.0,66.4 1777.5,92.0 1772.6,92.5" fill="#CD474D"/><polygon points="1590.0,66.4 1592.4,66.1 1779.9,91.7 1777.5,92.0" fill="#8F1D21"/><polygon points="1598.3,65.5 1603.2,65.0 1790.4,90.5 1785.7,91.1" fill="#CD474D"/><polygon points="1603.2,65.0 1605.6,64.7 1792.7,90.3 1790.4,90.5" fill="#8F1D21"/><polygon points="1611.5,64.1 1616.4,63.5 1802.9,89.1 1798.4,89.6" fill="#CD474D"/><polygon points="1616.4,63.5 1618.7,63.3 1805.1,88.9 1802.9,89.1" fill="#8F1D21"/></g>
<polygon points="1618.7,110 1810,88.3 1811.5,83.4 1611,105.6" fill="#BF373D"/>
<line x1="1611" y1="105.6" x2="1811.5" y2="83.4" stroke="#CF5056" stroke-width="1"/>
<line x1="1618.7" y1="110.3" x2="1810" y2="88.6" stroke="#8E1C20" stroke-width="1.2"/>
<line x1="1452.7" y1="81.8" x2="1618.7" y2="110.2" stroke="#8C1B1F" stroke-width="1.4"/>
<line x1="1624" y1="62.9" x2="1812" y2="83.4" stroke="#C8444A" stroke-width="1.2"/>
<g fill="#fff" font-weight="bold">
<text transform="matrix(0.464,-0.1058,-0.30,1,1636.5,246.6)" x="0" y="0" font-size="47.8" letter-spacing="2" stroke="#fff" stroke-width="1.3" stroke-linejoin="round">NORSEMAN</text>
<text transform="matrix(0.464,-0.1058,-0.30,1,1637.1000000000001,246.6)" x="0" y="0" font-size="47.8" letter-spacing="2" stroke="#fff" stroke-width="1.3" stroke-linejoin="round">NORSEMAN</text>
<text transform="matrix(0.464,-0.1058,-0.30,1,1637.7,246.6)" x="0" y="0" font-size="47.8" letter-spacing="2" stroke="#fff" stroke-width="1.3" stroke-linejoin="round">NORSEMAN</text>
<text transform="matrix(0.464,-0.1058,-0.30,1,1638.3000000000002,246.6)" x="0" y="0" font-size="47.8" letter-spacing="2" stroke="#fff" stroke-width="1.3" stroke-linejoin="round">NORSEMAN</text>
<text transform="matrix(1,-0.207,-0.28,1,1696.2,260.4)" x="0" y="0" font-size="16.5" textLength="78.5" lengthAdjust="spacingAndGlyphs" font-weight="normal">FiercelyReliable</text>
<text transform="matrix(1,-0.21,-0.28,1,1785,215.5)" font-size="4.5">TM</text>
<text transform="matrix(1,-0.21,-0.28,1,1777,242.5)" font-size="4.5">TM</text>
</g>
<path d="M1591.8,209.1 L1587.2,206.6 L1585.7,202.0 L1587.0,196.7 L1588.8,192.6 L1585.2,193.0 L1581.5,196.7 L1580.2,202.9 L1581.5,209.3 L1585.9,216.7 L1591.6,223.1 L1590.8,233.5 L1591.2,241.7 L1591.7,255.5 L1592.6,266.5 L1593.6,271.1 L1598.0,274.7 L1603.5,277.5 L1609.0,278.9 L1612.8,278.0 L1614.7,274.3 L1616.5,270.9 L1620.2,265.6 L1623.6,260.1 L1625.9,254.6 L1627.3,248.2 L1628.7,241.7 L1630.1,235.3 L1631.0,228.5 L1630.2,214.6 L1633.0,211.2 L1635.6,206.6 L1637.4,200.2 L1637.9,193.7 L1637.5,188.2 L1636.0,184.8 L1634.6,187.5 L1632.9,193.0 L1631.1,198.3 L1627.5,201.6 L1624.7,199.8 L1621.8,195.7 L1618.2,191.1 L1614.5,188.8 L1609.0,189.7 L1603.5,192.9 L1598.0,197.5 L1594.4,203.0 L1592.1,208.4 L1591.6,214.8 L1591.2,221.2" fill="none" stroke="#fff" stroke-width="2.9" stroke-linejoin="round" stroke-linecap="round"/>
<path d="M1606.0,220.3 L1606.8,213.9 L1610.0,207.6 L1615.4,203.9 L1620.9,203.5 L1624.7,206.7 L1626.9,211.2 L1628.8,215.8 L1630.2,220.4 L1625.6,219.5 L1619.1,219.0 L1612.7,221.3 L1607.7,223.2 Z" fill="#fff" stroke="#fff" stroke-width="1.5" stroke-linejoin="round"/>
<path d="M1631.0,204.0 L1634.6,198.5 L1635.6,203.8 L1633.4,209.3 L1630.6,208.4 Z" fill="#fff" stroke="#fff" stroke-width="1.5" stroke-linejoin="round"/>
<path d="M1598.0,227.7 L1603.5,226.8 L1612.7,225.8 L1616.4,225.4 L1617.3,227.7 L1612.7,229.9 L1603.5,231.3 L1598.5,229.9 Z" fill="#fff" stroke="#fff" stroke-width="1.5" stroke-linejoin="round"/>
<path d="M1625.6,228.5 L1625.6,233.5 L1623.7,239.9 L1621.9,246.3 L1620.1,252.0 L1619.1,255.5" fill="none" stroke="#fff" stroke-width="1.6" stroke-linejoin="round" stroke-linecap="round"/>
<path d="M1612.7,233.7 L1616.4,230.9 L1621.8,230.9 L1623.7,234.5 L1621.9,239.9 L1620.1,244.6 L1618.2,249.2 L1616.4,246.4 L1614.6,241.8 L1612.7,238.2 Z" fill="#fff" stroke="#fff" stroke-width="1.5" stroke-linejoin="round"/>
<path d="M1597.6,254.7 L1599.9,250.5 L1606.3,248.7 L1614.5,247.8 L1616.4,250.1 L1612.7,251.5 L1606.3,252.4 L1600.8,254.7 Z" fill="#fff" stroke="#fff" stroke-width="1.5" stroke-linejoin="round"/>
<path d="M1608.2,254.7 L1614.5,253.7 L1618.2,255.6 L1617.3,261.1 L1614.6,266.6 L1612.7,271.1 L1611.4,268.4 L1611.8,264.7 L1608.2,262.9 L1610.9,259.2 L1607.7,257.4 Z" fill="#fff" stroke="#fff" stroke-width="1.5" stroke-linejoin="round"/>
<text x="145.7" y="232.5" font-size="32.6" textLength="179.7" lengthAdjust="spacingAndGlyphs" fill="#D0222A" stroke="#D0222A" stroke-width="1.0" stroke-linejoin="round">Packaging</text>
<text x="121.1" y="262.7" font-size="32.6" textLength="229.3" lengthAdjust="spacingAndGlyphs" fill="#D0222A" stroke="#D0222A" stroke-width="1.0" stroke-linejoin="round">Deterioration</text>
<text x="402.5" y="236.6" font-size="32.6" textLength="172.1" lengthAdjust="spacingAndGlyphs" fill="#D0222A" stroke="#D0222A" stroke-width="1.0" stroke-linejoin="round">Corrosion</text>
<text x="639.3" y="236.6" font-size="32.6" textLength="143.5" lengthAdjust="spacingAndGlyphs" fill="#D0222A" stroke="#D0222A" stroke-width="1.0" stroke-linejoin="round">Warping</text>
<text x="149.0" y="519.6" font-size="32.6" textLength="168.9" lengthAdjust="spacingAndGlyphs" fill="#D0222A" stroke="#D0222A" stroke-width="1.0" stroke-linejoin="round">Caking of</text>
<text x="158.5" y="550.1" font-size="32.6" textLength="151.9" lengthAdjust="spacingAndGlyphs" fill="#D0222A" stroke="#D0222A" stroke-width="1.0" stroke-linejoin="round">Powders</text>
<text x="421.5" y="519.6" font-size="32.6" textLength="128.6" lengthAdjust="spacingAndGlyphs" fill="#D0222A" stroke="#D0222A" stroke-width="1.0" stroke-linejoin="round">Peeling</text>
<text x="430.3" y="550.1" font-size="32.6" textLength="109.3" lengthAdjust="spacingAndGlyphs" fill="#D0222A" stroke="#D0222A" stroke-width="1.0" stroke-linejoin="round">Labels</text>
<text x="665.6" y="519.6" font-size="32.6" textLength="85.2" lengthAdjust="spacingAndGlyphs" fill="#D0222A" stroke="#D0222A" stroke-width="1.0" stroke-linejoin="round">Mold</text>
<text x="1293.8" y="527.8" font-size="33.2" textLength="257.2" lengthAdjust="spacingAndGlyphs" fill="#D0222A" stroke="#D0222A" stroke-width="1.0" stroke-linejoin="round">Container Rain</text>
</svg>
</body></html>
